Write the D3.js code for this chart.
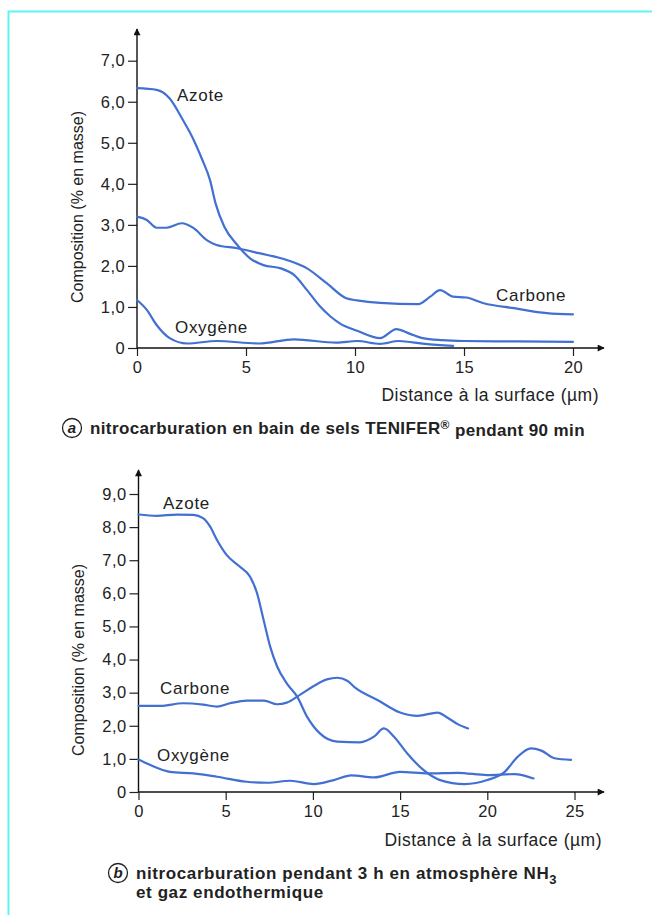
<!DOCTYPE html>
<html>
<head>
<meta charset="utf-8">
<script src="https://cdn.jsdelivr.net/npm/d3@7"></script>
<style>
  html, body { margin: 0; padding: 0; background: #fff; }
  svg { display: block; font-family: "Liberation Sans", Arial, sans-serif; }
</style>
</head>
<body>
<script>
// (a) TENIFER salt bath, 90 min  — [distance µm, % mass]
const aAzote = [[0,6.33],[0.9,6.29],[1.5,6.08],[2.1,5.56],[2.6,5.07],[3.0,4.58],[3.35,4.09],[3.6,3.53],
  [4.0,2.96],[4.6,2.51],[5.2,2.18],[5.8,2.02],[6.6,1.94],[7.2,1.78],[7.8,1.41],[8.4,1.01],[8.85,0.78],
  [9.3,0.6],[10.1,0.42],[11.15,0.24],[11.9,0.46],[12.5,0.35],[13.1,0.24],[14.0,0.19],[15.0,0.17],[17.5,0.16],[20,0.15]];
const aCarbone = [[0,3.2],[0.45,3.12],[0.9,2.93],[1.35,2.93],[2.05,3.04],[2.6,2.92],[3.2,2.63],[3.65,2.51],
  [4.6,2.43],[5.6,2.31],[6.9,2.14],[7.8,1.94],[8.7,1.58],[9.6,1.21],[10.1,1.16],[11.15,1.1],[12.9,1.07],
  [13.45,1.25],[13.9,1.41],[14.5,1.25],[15.1,1.23],[15.9,1.09],[17.3,0.97],[18.8,0.85],[20,0.82]];
const aOxygene = [[0,1.17],[0.45,0.93],[0.9,0.56],[1.5,0.24],[2.3,0.11],[3.65,0.17],[5.6,0.11],[7.2,0.21],
  [9.15,0.13],[10.1,0.17],[11.15,0.1],[12.0,0.17],[13.2,0.1],[14.5,0.05]];
const aXTicks = [0, 5, 10, 15, 20];
const aYTicks = [0, 1, 2, 3, 4, 5, 6, 7];

// (b) NH3 + endothermic gas, 3 h
const bAzote = [[0,8.38],[1.05,8.34],[2.2,8.38],[3.15,8.37],[3.7,8.27],[4.1,8.02],[4.5,7.61],[5.05,7.16],
  [5.8,6.81],[6.4,6.5],[6.8,6.0],[7.17,5.2],[7.55,4.39],[7.95,3.79],[8.5,3.28],[9.1,2.88],[9.67,2.27],
  [10.4,1.77],[11.4,1.52],[12.7,1.5],[13.5,1.67],[14.07,1.92],[14.65,1.67],[15.4,1.17],[16.35,0.66],
  [17.3,0.36],[18.7,0.24],[20.0,0.36],[21.0,0.61],[21.75,1.07],[22.5,1.32],[23.1,1.25],[23.85,1.02],[24.8,0.97]];
const bCarbone = [[0,2.6],[1.25,2.6],[2.55,2.68],[3.7,2.64],[4.5,2.58],[5.25,2.68],[6.2,2.76],[7.2,2.76],
  [7.95,2.65],[8.5,2.7],[9.3,2.95],[10.05,3.2],[10.8,3.4],[11.4,3.45],[11.97,3.36],[12.4,3.16],
  [13.7,2.78],[15.0,2.4],[16.0,2.3],[17.15,2.4],[17.7,2.25],[18.3,2.05],[18.9,1.92]];
const bOxygene = [[0,0.98],[0.65,0.82],[1.8,0.61],[3.15,0.56],[4.5,0.46],[6.2,0.31],[7.4,0.28],[8.7,0.34],
  [10.05,0.24],[11.2,0.36],[12.2,0.5],[13.5,0.44],[15.0,0.61],[16.6,0.56],[18.3,0.58],[20.0,0.51],
  [21.55,0.54],[22.65,0.41]];
const bXTicks = [0, 5, 10, 15, 20, 25];
const bYTicks = [0, 1, 2, 3, 4, 5, 6, 7, 8, 9];

const width = 652, height = 915;
const lineColor = '#4270d2';
const ink = '#222';

const svg = d3.select('body').append('svg')
    .attr('width', width)
    .attr('height', height)
    .attr('viewBox', [0, 0, width, height]);

// cyan frame (runs off the right and bottom edges)
svg.append('rect')
    .attr('x', 8.5).attr('y', 11.5)
    .attr('width', 700).attr('height', 950)
    .attr('fill', 'none')
    .attr('stroke', '#5ff3f3')
    .attr('stroke-width', 2);

const defs = svg.append('defs');
defs.append('marker')
    .attr('id', 'arrow')
    .attr('viewBox', '0 0 10 10')
    .attr('refX', 9).attr('refY', 5)
    .attr('markerWidth', 9).attr('markerHeight', 7)
    .attr('markerUnits', 'userSpaceOnUse')
    .attr('orient', 'auto')
    .append('path')
    .attr('d', 'M0,0L10,5L0,10Z')
    .attr('fill', '#111');

const fmt = d => d === 0 ? '0' : d3.format('.1f')(d).replace('.', ',');

function drawPanel(p) {
  const x = d3.scaleLinear().domain(p.xDomain).range(p.xRange);
  const y = d3.scaleLinear().domain(p.yDomain).range(p.yRange);
  const g = svg.append('g');

  // axes
  const gy = g.append('g')
      .attr('transform', `translate(${p.xRange[0]},0)`)
      .call(d3.axisLeft(y).tickValues(p.yTicks).tickFormat(fmt).tickSize(9).tickPadding(3));
  const gx = g.append('g')
      .attr('transform', `translate(0,${p.yRange[0]})`)
      .call(d3.axisBottom(x).tickValues(p.xTicks).tickSize(8).tickPadding(5));
  [gx, gy].forEach(a => {
    a.select('.domain').remove();
    a.selectAll('line').attr('stroke', ink).attr('stroke-width', 1.2);
    a.selectAll('text').attr('fill', ink).attr('font-size', 16.5)
        .attr('letter-spacing', 0.4)
        .attr('font-family', '"Liberation Sans", Arial, sans-serif');
  });

  g.append('line')
      .attr('x1', p.xRange[0]).attr('x2', p.xRange[0])
      .attr('y1', p.yRange[0]).attr('y2', p.yTop)
      .attr('stroke', '#111').attr('stroke-width', 1.4)
      .attr('marker-end', 'url(#arrow)');
  g.append('line')
      .attr('x1', p.xRange[0]).attr('x2', p.xEnd)
      .attr('y1', p.yRange[0]).attr('y2', p.yRange[0])
      .attr('stroke', '#111').attr('stroke-width', 1.4)
      .attr('marker-end', 'url(#arrow)');

  // curves
  const line = d3.line()
      .x(d => x(d[0])).y(d => y(d[1]))
      .curve(d3.curveMonotoneX);
  g.selectAll('path.serie')
      .data(p.series)
      .join('path')
      .attr('class', 'serie')
      .attr('d', d => line(d.values))
      .attr('fill', 'none')
      .attr('stroke', lineColor)
      .attr('stroke-width', 2.2)
      .attr('stroke-linejoin', 'round')
      .attr('stroke-linecap', 'round');

  g.selectAll('text.lbl')
      .data(p.series)
      .join('text')
      .attr('class', 'lbl')
      .attr('x', d => d.lx).attr('y', d => d.ly)
      .attr('dy', '0.35em')
      .attr('font-size', 17)
      .attr('letter-spacing', 0.7)
      .attr('fill', ink)
      .text(d => d.name);

  // axis titles
  g.append('text')
      .attr('transform', `translate(${p.yTitle[0]},${p.yTitle[1]}) rotate(-90)`)
      .attr('text-anchor', 'middle')
      .attr('dy', '0.35em')
      .attr('font-size', 16)
      .attr('fill', ink)
      .text('Composition (% en masse)');
  g.append('text')
      .attr('x', p.xTitle[0]).attr('y', p.xTitle[1])
      .attr('text-anchor', 'end')
      .attr('dy', '0.35em')
      .attr('font-size', 17.5)
      .attr('letter-spacing', 0.5)
      .attr('fill', ink)
      .text('Distance à la surface (µm)');

  // caption
  const cap = g.append('g').attr('transform', `translate(${p.capPos[0]},${p.capPos[1]})`);
  cap.append('circle').attr('r', 9.5).attr('fill', 'none').attr('stroke', ink).attr('stroke-width', 1.3);
  cap.append('text')
      .attr('text-anchor', 'middle').attr('dy', '0.35em')
      .attr('font-size', 15).attr('font-weight', 'bold').attr('font-style', 'italic')
      .attr('fill', ink)
      .text(p.letter);
  p.caption(cap.append('text')
      .attr('x', 18).attr('dy', '0.35em')
      .attr('font-size', 17).attr('font-weight', 'bold')
      .attr('letter-spacing', p.capSpacing)
      .attr('fill', ink));
}

drawPanel({
  xDomain: [0, 20], xRange: [137, 573],
  yDomain: [0, 7], yRange: [348, 60.7],
  yTop: 29, xEnd: 604,
  xTicks: aXTicks, yTicks: aYTicks,
  series: [
    {name: 'Azote', values: aAzote, lx: 177, ly: 95},
    {name: 'Carbone', values: aCarbone, lx: 496, ly: 295},
    {name: 'Oxygène', values: aOxygene, lx: 175, ly: 327}
  ],
  yTitle: [77, 207], xTitle: [599, 395],
  capPos: [72, 428], letter: 'a', capSpacing: 0.38,
  caption: t => {
    t.append('tspan').text('nitrocarburation en bain de sels TENIFER');
    t.append('tspan').attr('dy', '-0.45em').attr('font-size', 12).text('®');
    t.append('tspan').attr('dy', '0.45em').text(' pendant 90 min');
  }
});

drawPanel({
  xDomain: [0, 25], xRange: [138.5, 574.5],
  yDomain: [0, 9], yRange: [792, 494],
  yTop: 470, xEnd: 604,
  xTicks: bXTicks, yTicks: bYTicks,
  series: [
    {name: 'Azote', values: bAzote, lx: 163, ly: 503},
    {name: 'Carbone', values: bCarbone, lx: 160, ly: 688},
    {name: 'Oxygène', values: bOxygene, lx: 157, ly: 755}
  ],
  yTitle: [78, 660], xTitle: [602, 840],
  capPos: [118, 873], letter: 'b', capSpacing: 0.6,
  caption: t => {
    t.append('tspan').text('nitrocarburation pendant 3 h en atmosphère NH');
    t.append('tspan').attr('dy', '0.4em').attr('font-size', 13).text('3');
    t.append('tspan').attr('x', 18).attr('dy', '0.8em').text('et gaz endothermique');
  }
});
</script>
</body>
</html>
